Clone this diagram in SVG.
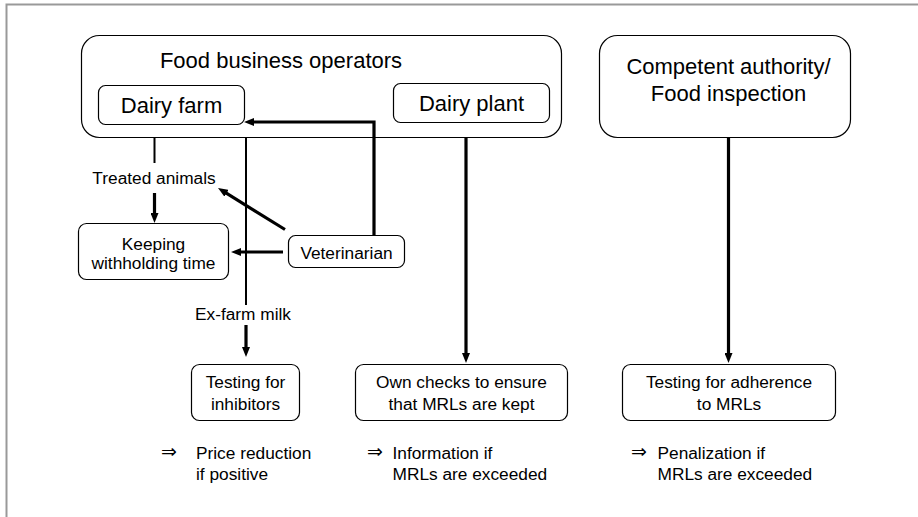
<svg xmlns="http://www.w3.org/2000/svg" width="918" height="517" viewBox="0 0 918 517">
<defs>
<marker id="ah" markerUnits="userSpaceOnUse" markerWidth="10" markerHeight="8" refX="4" refY="4" orient="auto">
<path d="M0,0 L10,4 L0,8 z" fill="#000"/>
</marker>
<style>
.box{fill:#fff;stroke:#000;stroke-width:1.2}
.big{font-family:"Liberation Sans",Arial,sans-serif;font-size:22px;fill:#000}
.sm{font-family:"Liberation Sans",Arial,sans-serif;font-size:17.3px;fill:#000}
.sym{font-family:"DejaVu Sans",sans-serif;font-size:19px;fill:#000}
.thin{fill:none;stroke:#000;stroke-width:2}
.thick{fill:none;stroke:#000;stroke-width:3.2;marker-end:url(#ah)}
</style>
</defs>
<rect width="918" height="517" fill="#fff"/>
<path d="M6.5,517 V4.5 H918" fill="none" stroke="#999" stroke-width="2"/>

<g id="food-business-operators">
<rect class="box" x="81.5" y="35.5" width="480" height="102" rx="18"/>
<text class="big" x="281" y="68" text-anchor="middle">Food business operators</text>
</g>
<g id="dairy-farm">
<rect class="box" x="98.5" y="85.5" width="146" height="39" rx="7"/>
<text class="big" x="171.5" y="112.5" text-anchor="middle">Dairy farm</text>
</g>
<g id="dairy-plant">
<rect class="box" x="393.5" y="83.5" width="156" height="39" rx="7"/>
<text class="big" x="471.5" y="110.5" text-anchor="middle">Dairy plant</text>
</g>
<g id="competent-authority">
<rect class="box" x="599.5" y="35.5" width="251" height="102" rx="18"/>
<text class="big" x="728.5" y="74" text-anchor="middle">Competent authority/</text>
<text class="big" x="728.5" y="101" text-anchor="middle">Food inspection</text>
</g>
<g id="treated-animals">
<text class="sm" x="154" y="184" text-anchor="middle">Treated animals</text>
</g>
<g id="keeping-withholding-time">
<rect class="box" x="78.5" y="223.5" width="150" height="56" rx="8"/>
<text class="sm" x="153.5" y="250" text-anchor="middle">Keeping</text>
<text class="sm" x="153.5" y="268.5" text-anchor="middle">withholding time</text>
</g>
<g id="veterinarian">
<rect class="box" x="288.5" y="235.5" width="116" height="32" rx="7"/>
<text class="sm" x="346.5" y="258.5" text-anchor="middle">Veterinarian</text>
</g>
<g id="ex-farm-milk">
<text class="sm" x="243" y="320" text-anchor="middle">Ex-farm milk</text>
</g>
<g id="testing-inhibitors">
<rect class="box" x="191.5" y="364.5" width="108" height="56" rx="8"/>
<text class="sm" x="245.5" y="388" text-anchor="middle">Testing for</text>
<text class="sm" x="245.5" y="410" text-anchor="middle">inhibitors</text>
</g>
<g id="own-checks">
<rect class="box" x="355.5" y="364.5" width="212" height="56" rx="8"/>
<text class="sm" x="461.5" y="388" text-anchor="middle">Own checks to ensure</text>
<text class="sm" x="461.5" y="410" text-anchor="middle">that MRLs are kept</text>
</g>
<g id="testing-adherence">
<rect class="box" x="622.5" y="364.5" width="213" height="56" rx="8"/>
<text class="sm" x="729" y="388" text-anchor="middle">Testing for adherence</text>
<text class="sm" x="729" y="410" text-anchor="middle">to MRLs</text>
</g>
<g id="price-reduction">
<text class="sym" x="161" y="458">⇒</text>
<text class="sm" x="196" y="458.5">Price reduction</text>
<text class="sm" x="196" y="479.5">if positive</text>
</g>
<g id="information">
<text class="sym" x="367" y="458">⇒</text>
<text class="sm" x="392.5" y="458.5">Information if</text>
<text class="sm" x="392.5" y="479.5">MRLs are exceeded</text>
</g>
<g id="penalization">
<text class="sym" x="631" y="458">⇒</text>
<text class="sm" x="657.5" y="458.5">Penalization if</text>
<text class="sm" x="657.5" y="479.5">MRLs are exceeded</text>
</g>

<g id="connectors">
<path class="thin" d="M154.5,137 V163"/>
<path class="thick" d="M154.5,193 V217"/>
<path class="thin" d="M246,137 V305"/>
<path class="thick" d="M246,325 V351"/>
<path class="thick" d="M374,236 V122 H250"/>
<path class="thick" d="M285,229.5 L223.1,191.1"/>
<path class="thick" d="M283,252 H237"/>
<path class="thick" d="M466,137 V357"/>
<path class="thick" d="M728.5,138 V357"/>
</g>
</svg>
